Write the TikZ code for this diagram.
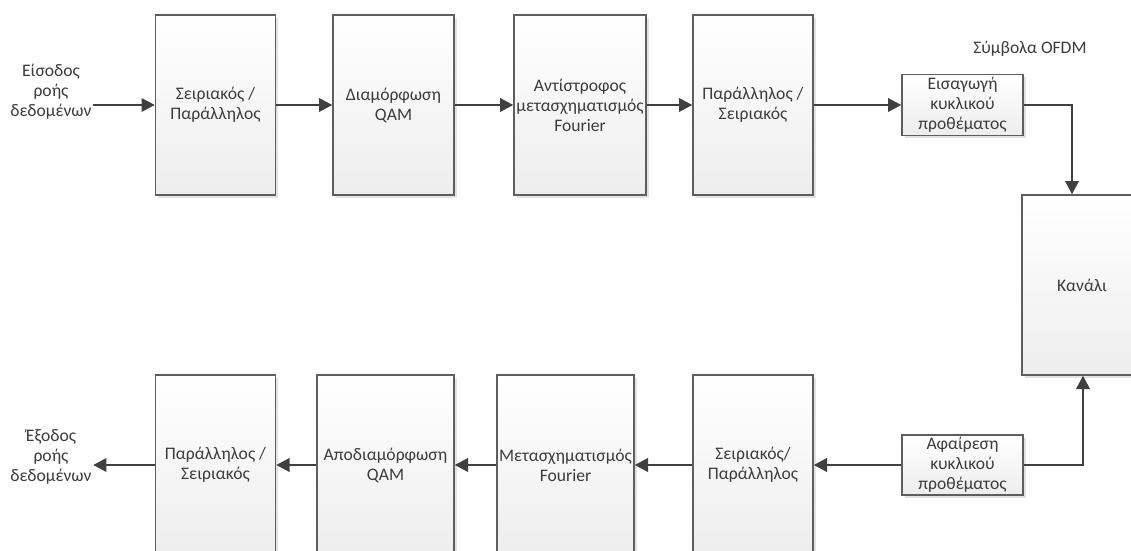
\documentclass[tikz,border=0pt]{standalone}
\usepackage{fontspec}
\setmainfont{Carlito}
\usetikzlibrary{arrows.meta,shadows}
\definecolor{txt}{HTML}{3C3C3C}
\definecolor{edge}{HTML}{5E5E5E}
\definecolor{wire}{HTML}{404040}
\tikzset{
  blk/.style 2 args={draw=edge, line width=1pt, top color=white, bottom color=black!7,
    minimum width=#1*0.75pt, minimum height=#2*0.75pt, inner sep=0pt,
    align=center, text=txt, font=\fontsize{13.2}{15}\selectfont,
    drop shadow={shadow xshift=2pt, shadow yshift=-2pt, fill=black!18, opacity=0.6}},
  lbl/.style={align=center, text=txt, font=\fontsize{13.2}{15}\selectfont, inner sep=1pt},
  arr/.style={draw=wire, line width=1.9pt, -{Triangle[length=10pt,width=10pt]}},
}
\begin{document}
\begin{tikzpicture}[x=0.75pt, y=-0.75pt]
\clip (0,0) rectangle (1131,550);
\fill[white] (0,0) rectangle (1131,550);

% transmitter chain
\node[blk={120}{180}] (s2p)  at (215.5,105) {Σειριακός /\\Παράλληλος};
\node[blk={121}{180}] (qam)  at (393.5,105) {Διαμόρφωση\\QAM};
\node[blk={132}{180}] (ifft) at (580,105)   {Αντίστροφος\\μετασχηματισμός\\Fourier};
\node[blk={120}{180}] (p2s)  at (753,105)   {Παράλληλος /\\Σειριακός};
\node[blk={121}{61}]  (cpi)  at (962.5,105) {Εισαγωγή\\κυκλικού\\προθέματος};

% channel
\node[blk={120}{180}] (ch)   at (1082,285)  {Κανάλι};

% receiver chain
\node[blk={121}{60}]  (cpr)  at (962.5,465) {Αφαίρεση\\κυκλικού\\προθέματος};
\node[blk={120}{180}] (s2pb) at (753,465)   {Σειριακός/\\Παράλληλος};
\node[blk={137}{180}] (fft)  at (565.5,465) {Μετασχηματισμός\\Fourier};
\node[blk={137}{180}] (dem)  at (385.5,465) {Αποδιαμόρφωση\\QAM};
\node[blk={120}{180}] (p2sb) at (215.5,465) {Παράλληλος /\\Σειριακός};

% labels
\node[lbl] (in)   at (51,92)   {Είσοδος\\ροής\\δεδομένων};
\node[lbl] (out)  at (51,457)  {Έξοδος\\ροής\\δεδομένων};
\node[lbl] (sym)  at (1030,49) {Σύμβολα OFDM};

% connectors
\draw[arr] (in.east |- s2p.west) -- (s2p.west);
\draw[arr] (s2p) -- (qam);
\draw[arr] (qam) -- (ifft);
\draw[arr] (ifft) -- (p2s);
\draw[arr] (p2s) -- (cpi);
\draw[arr] (cpi.east) -| ([xshift=-7.5pt]ch.north);
\draw[arr] (cpr.east) -| ([xshift=0.75pt]ch.south);
\draw[arr] (cpr) -- (s2pb);
\draw[arr] (s2pb) -- (fft);
\draw[arr] (fft) -- (dem);
\draw[arr] (dem) -- (p2sb);
\draw[arr] (p2sb.west) -- (out.east |- p2sb.west);
\end{tikzpicture}
\end{document}
